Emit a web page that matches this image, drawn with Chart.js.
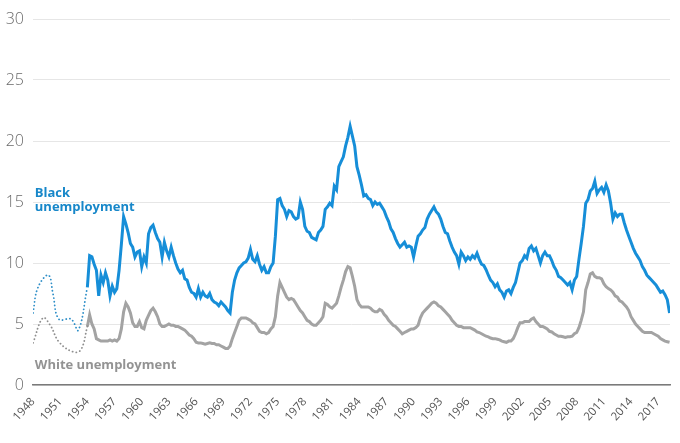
<!DOCTYPE html>
<html>
<head>
<meta charset="utf-8">
<script src="https://cdn.jsdelivr.net/npm/chart.js@4"></script>
<style>
  html, body { margin: 0; padding: 0; background: #fff; }
  #wrap { width: 680px; height: 443px; position: relative; }
</style>
</head>
<body>
<div id="wrap"><canvas id="chart"></canvas></div>
<script>
// quarterly rates, first value = Q1 1954
var firstYear = 1954
var blackRate = [
  8.0, 10.6, 10.5, 9.9,   9.4, 7.3, 9.0, 8.4,   9.2, 8.6, 7.3, 8.1,   7.6, 7.9, 9.4, 11.5,
  13.8, 13.2, 12.5, 11.6, 11.3, 10.5, 10.9, 11.0, 9.7, 10.5, 10.0, 12.4, 12.9, 13.1, 12.5, 12.0,
  11.7, 10.5, 11.7, 11.0, 10.5, 11.3, 10.6, 10.0, 9.5, 9.2, 9.4, 8.7,   8.6, 8.0, 7.6, 7.5,
  7.2, 7.9, 7.2, 7.6,   7.3, 7.2, 7.5, 7.0,   6.8, 6.7, 6.5, 6.8,   6.6, 6.4, 6.1, 5.9,
  7.6, 8.6, 9.2, 9.6,   9.8, 10.0, 10.1, 10.4, 11.1, 10.3, 10.1, 10.6, 9.9, 9.4, 9.7, 9.2,
  9.2, 9.7, 10.0, 12.2, 15.2, 15.3, 14.7, 14.4, 13.8, 14.3, 14.2, 13.8, 13.6, 13.7, 15.0, 14.4,
  13.0, 12.6, 12.5, 12.1, 12.0, 11.9, 12.5, 12.7, 13.0, 14.4, 14.6, 14.9, 14.7, 16.3, 16.0, 17.9,
  18.3, 18.7, 19.6, 20.3, 21.2, 20.4, 19.6, 17.9, 17.2, 16.4, 15.5, 15.6, 15.3, 15.2, 14.7, 15.0,
  14.8, 14.9, 14.6, 14.3, 13.8, 13.4, 12.8, 12.5, 12.0, 11.6, 11.3, 11.5, 11.7, 11.3, 11.4, 11.3,
  10.5, 11.4, 12.2, 12.4, 12.7, 12.9, 13.6, 14.0, 14.3, 14.6, 14.2, 14.0, 13.6, 13.0, 12.5, 12.4,
  11.8, 11.3, 10.9, 10.6, 9.9, 10.9, 10.6, 10.2, 10.5, 10.3, 10.6, 10.4, 10.8, 10.3, 9.9, 9.8,
  9.45, 9.0, 8.6, 8.4,  8.05, 8.3, 7.8, 7.6,  7.2, 7.7, 7.8, 7.5,   8.0, 8.4, 9.2, 10.0,
  10.2, 10.6, 10.4, 11.2, 11.4, 11.0, 11.2, 10.6, 10.0, 10.6, 10.9, 10.6, 10.6, 10.2, 9.7, 9.4,
  8.9, 8.8, 8.6, 8.4,   8.2, 8.4, 7.8, 8.6,   8.9, 10.3, 11.6, 13.0, 14.9, 15.2, 15.9, 16.1,
  16.7, 15.7, 16.0, 16.2, 15.8, 16.4, 15.9, 14.9, 13.6, 14.1, 13.8, 14.0, 14.0, 13.3, 12.7, 12.2,
  11.7, 11.2, 10.8, 10.5, 10.2, 9.7, 9.4, 9.0,  8.8, 8.6, 8.4, 8.2,   7.9, 7.6, 7.7, 7.4,
  7.0, 5.9
]
var whiteRate = [
  4.8, 5.75, 5.0, 4.6,  3.8, 3.7, 3.6, 3.6,   3.6, 3.6, 3.7, 3.6,   3.7, 3.6, 3.8, 4.6,
  6.0, 6.7, 6.4, 5.9,   5.1, 4.8, 4.8, 5.2,   4.7, 4.6, 5.3, 5.7,   6.1, 6.3, 6.0, 5.6,
  5.0, 4.8, 4.8, 4.9,   5.0, 4.9, 4.9, 4.8,   4.8, 4.7, 4.6, 4.5,   4.3, 4.1, 4.0, 3.8,
  3.5, 3.45, 3.45, 3.4, 3.35, 3.4, 3.45, 3.4, 3.4, 3.3, 3.3, 3.2,   3.1, 3.0, 3.0, 3.2,
  3.8, 4.3, 4.8, 5.3,   5.5, 5.5, 5.5, 5.4,   5.3, 5.1, 5.0, 4.7,   4.4, 4.3, 4.3, 4.2,
  4.3, 4.6, 4.8, 5.6,   7.3, 8.4, 8.0, 7.6,   7.2, 7.0, 7.1, 7.0,   6.7, 6.4, 6.1, 5.9,
  5.6, 5.3, 5.2, 5.0,   4.9, 4.9, 5.1, 5.3,   5.6, 6.7, 6.6, 6.4,   6.3, 6.5, 6.7, 7.3,
  8.0, 8.6, 9.3, 9.7,   9.6, 8.9, 8.1, 7.0,   6.6, 6.4, 6.4, 6.4,   6.4, 6.3, 6.1, 6.0,
  6.0, 6.2, 6.1, 5.8,   5.6, 5.3, 5.1, 4.9,   4.8, 4.6, 4.4, 4.2,   4.3, 4.4, 4.5, 4.6,
  4.6, 4.7, 4.9, 5.5,   5.9, 6.1, 6.3, 6.5,   6.7, 6.8, 6.7, 6.5,   6.4, 6.2, 6.0, 5.8,
  5.6, 5.3, 5.1, 4.9,   4.8, 4.8, 4.7, 4.7,   4.7, 4.7, 4.6, 4.5,   4.35, 4.3, 4.2, 4.1,
  4.0, 3.95, 3.85, 3.8, 3.8, 3.75, 3.7, 3.6,  3.55, 3.5, 3.6, 3.6,  3.8, 4.2, 4.7, 5.1,
  5.1, 5.2, 5.2, 5.2,   5.4, 5.5, 5.2, 5.0,   4.8, 4.8, 4.7, 4.6,   4.4, 4.35, 4.2, 4.1,
  4.0, 4.0, 3.95, 3.9,  3.95, 3.95, 4.0, 4.2, 4.3, 4.7, 5.3, 6.0,   7.8, 8.4, 9.1, 9.2,
  8.9, 8.8, 8.8, 8.7,   8.3, 8.05, 7.9, 7.8,  7.6, 7.3, 7.2, 6.9,   6.8, 6.6, 6.4, 6.1,
  5.6, 5.3, 5.0, 4.8,   4.6, 4.4, 4.3, 4.3,   4.3, 4.3, 4.2, 4.1,   4.0, 3.8, 3.7, 3.6,
  3.55, 3.5
]

// dotted estimates before 1954
var blackEstYears = [1948, 1948.55, 1949.7, 1950.2, 1950.85, 1952.2, 1953.0, 1954]
var blackEst = [5.9, 8.0, 9.0, 7.5, 5.4, 5.4, 4.5, 8.0]
var whiteEstYears = [1948, 1949.1, 1949.9, 1950.9, 1952.5, 1953.3, 1954]
var whiteEst = [3.45, 5.5, 4.9, 3.5, 2.7, 2.9, 4.8]

var xTicks = [1948, 1951, 1954, 1957, 1960, 1963, 1966, 1969, 1972, 1975, 1978, 1981,
  1984, 1987, 1990, 1993, 1996, 1999, 2002, 2005, 2008, 2011, 2014, 2017]
var yTicks = [0, 5, 10, 15, 20, 25, 30]

var BLUE = '#168ed8'
var GREY = '#a3a3a3'

function quarterly(values) {
  return values.map((v, i) => ({ x: firstYear + i / 4, y: v }))
}
function pairs(xs, ys) {
  return xs.map((x, i) => ({ x: x, y: ys[i] }))
}

var seriesLabels = {
  id: 'seriesLabels',
  afterDatasetsDraw(chart) {
    var ctx = chart.ctx
    var x = chart.scales.x
    var y = chart.scales.y
    ctx.save()
    ctx.textAlign = 'left'
    ctx.textBaseline = 'alphabetic'
    ctx.font = 'bold 13px "Open Sans"'
    ctx.fillStyle = '#1787c9'
    ctx.fillText('Black', x.getPixelForValue(1948.2), y.getPixelForValue(15.4))
    ctx.fillText('unemployment', x.getPixelForValue(1948.2), y.getPixelForValue(14.25))
    ctx.fillStyle = '#939393'
    ctx.fillText('White unemployment', x.getPixelForValue(1948.2), y.getPixelForValue(1.35))
    ctx.restore()
  }
}

new Chart(document.getElementById('chart'), {
  type: 'line',
  data: {
    datasets: [
      {
        data: pairs(whiteEstYears, whiteEst),
        borderColor: '#8f8f8f',
        borderWidth: 1.8,
        borderDash: [0.1, 3.6],
        borderCapStyle: 'round',
        pointRadius: 0,
        tension: 0.4
      },
      {
        data: pairs(blackEstYears, blackEst),
        borderColor: '#2f8fc8',
        borderWidth: 1.8,
        borderDash: [0.1, 3.6],
        borderCapStyle: 'round',
        pointRadius: 0,
        tension: 0.4
      },
      {
        data: quarterly(whiteRate),
        borderColor: GREY,
        borderWidth: 3,
        pointRadius: 0,
        tension: 0
      },
      {
        data: quarterly(blackRate),
        borderColor: BLUE,
        borderWidth: 3,
        pointRadius: 0,
        tension: 0
      }
    ]
  },
  options: {
    responsive: true,
    maintainAspectRatio: false,
    animation: false,
    layout: { padding: { top: 19, right: 10, left: 0, bottom: 0 } },
    plugins: { legend: { display: false }, tooltip: { enabled: false } },
    scales: {
      x: {
        type: 'linear',
        min: 1948,
        max: 2018.3,
        afterFit: function(scale) { scale.height = 58 },
        afterBuildTicks: function(scale) { scale.ticks = xTicks.map(v => ({ value: v })) },
        grid: { display: false, drawTicks: false },
        border: { display: true, color: '#7a7a7a', width: 1.5 },
        ticks: {
          autoSkip: false,
          maxRotation: 48,
          minRotation: 48,
          padding: 10,
          color: '#555',
          font: { family: '"Open Sans"', size: 11.5 },
          callback: function(v) { return String(v) }
        }
      },
      y: {
        min: 0,
        max: 30,
        afterFit: function(scale) { scale.width = 33 },
        afterBuildTicks: function(scale) { scale.ticks = yTicks.map(v => ({ value: v })) },
        grid: { color: '#e6e6e6', lineWidth: 1, drawTicks: false },
        border: { display: false },
        ticks: {
          padding: 9,
          color: '#6a6a6a',
          font: { family: '"Open Sans"', size: 16, weight: '300' }
        }
      }
    }
  },
  plugins: [seriesLabels]
})
</script>
</body>
</html>
